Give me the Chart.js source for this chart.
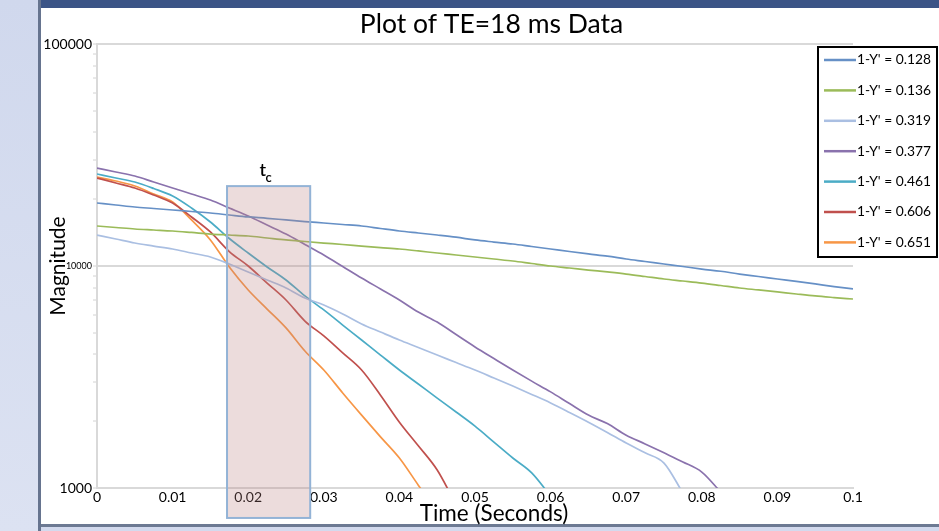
<!DOCTYPE html>
<html>
<head>
<meta charset="utf-8">
<script src="https://cdn.jsdelivr.net/npm/chart.js@4.4.0/dist/chart.umd.min.js"></script>
<style>
  html, body { margin: 0; padding: 0; background: #fff; }
  #frame { position: relative; width: 939px; height: 531px; overflow: hidden; background: #fff; }
  .deco { position: absolute; }
  #myChart { position: absolute; left: 0; top: 0; }
</style>
</head>
<body>
<div id="frame">
  <div class="deco" style="left:0;top:0;width:38px;height:531px;background:linear-gradient(#d0d8ed,#dce2f2)"></div>
  <div class="deco" style="left:38px;top:0;width:3px;height:531px;background:#66748f"></div>
  <div class="deco" style="left:41px;top:0;width:898px;height:8px;background:#3b5486"></div>
  <div class="deco" style="left:41px;top:524px;width:898px;height:3px;background:#6d7a93"></div>
  <div class="deco" style="left:41px;top:527px;width:898px;height:4px;background:#d3daee"></div>
  <canvas id="myChart" width="939" height="531"></canvas>
</div>
<script>
// sample times (seconds)
const timeS = [0, 0.0025, 0.005, 0.0075, 0.01, 0.0125, 0.015, 0.0175, 0.02, 0.0225,
  0.025, 0.0275, 0.03, 0.0325, 0.035, 0.0375, 0.04, 0.0425, 0.045, 0.0475,
  0.05, 0.0525, 0.055, 0.0575, 0.06, 0.0625, 0.065, 0.0675, 0.07, 0.0725,
  0.075, 0.0775, 0.08, 0.0825, 0.085, 0.0875, 0.09, 0.0925, 0.095, 0.0975, 0.1]

// magnitudes, one array per curve
const mag128 = [19220, 18830, 18440, 18160, 17880, 17600, 17330, 16970, 16630, 16400,
  16120, 15860, 15620, 15380, 15140, 14750, 14380, 14080, 13790, 13480,
  13100, 12820, 12560, 12240, 11930, 11620, 11330, 11070, 10750, 10480,
  10210, 9950, 9690, 9470, 9200, 8970, 8740, 8520, 8300, 8080, 7880]
const mag136 = [15140, 14910, 14680, 14530, 14380, 14160, 13930, 13790, 13650, 13370,
  13100, 12890, 12690, 12500, 12300, 12110, 11930, 11690, 11440, 11210,
  10980, 10750, 10530, 10260, 10000, 9795, 9590, 9400, 9200, 8970,
  8740, 8560, 8380, 8170, 7960, 7800, 7640, 7480, 7330, 7210, 7100]
const mag319 = [13790, 13230, 12690, 12300, 11930, 11440, 10980, 10210, 9400, 8650,
  7960, 7180, 6670, 6080, 5480, 5040, 4640, 4295, 3970, 3675,
  3400, 3130, 2880, 2640, 2415, 2190, 1980, 1780, 1595, 1440,
  1295, 950]
const mag377 = [27630, 26510, 25430, 23890, 22460, 21100, 19830, 18250, 16800, 15300,
  13930, 12500, 11210, 9950, 8830, 7880, 7030, 6200, 5590, 4910,
  4320, 3830, 3400, 3030, 2710, 2400, 2130, 1950, 1730, 1580,
  1440, 1310, 1180, 960]
const mag461 = [25970, 24910, 23890, 22340, 20670, 18250, 15780, 13300, 11440, 9900,
  8650, 7330, 6340, 5420, 4640, 3970, 3400, 2940, 2540, 2200,
  1900, 1610, 1365, 1170, 920]
const mag606 = [24910, 23650, 22460, 20880, 19220, 16630, 14230, 11620, 10000, 8380,
  7030, 5650, 4840, 4060, 3400, 2620, 1980, 1550, 1205, 840]
const mag651 = [25170, 24150, 22930, 21100, 19420, 16120, 13100, 9900, 7800, 6400,
  5260, 4140, 3400, 2680, 2130, 1700, 1365, 1030, 780]

const seriesLabels = ["1-Y' = 0.128", "1-Y' = 0.136", "1-Y' = 0.319", "1-Y' = 0.377",
  "1-Y' = 0.461", "1-Y' = 0.606", "1-Y' = 0.651"]
const seriesValues = [mag128, mag136, mag319, mag377, mag461, mag606, mag651]
const seriesColors = ['#6690c6', '#9bbb59', '#aabfe2', '#8a72ad', '#4bacc6', '#c0504d', '#f79646']

const xTicks = [0, 0.01, 0.02, 0.03, 0.04, 0.05, 0.06, 0.07, 0.08, 0.09, 0.1]
const yMajor = [1000, 10000, 100000]
const yTicks = [1000, 2000, 3000, 4000, 5000, 6000, 7000, 8000, 9000,
  10000, 20000, 30000, 40000, 50000, 60000, 70000, 80000, 90000, 100000]

// the shaded t_c window
const tcStart = 0.0172
const tcEnd = 0.0282
const tcTop = 22900
const tcBottom = 733

const family = 'Lato, "Open Sans", sans-serif'

let slideText = {
    id: 'slideText',
    afterDraw(chart){
        let ctx = chart.ctx
        ctx.save()
        ctx.fillStyle = '#000'
        ctx.textAlign = 'center'
        ctx.textBaseline = 'middle'
        ctx.font = '26.5px ' + family
        ctx.fillText('Plot of TE=18 ms Data', 491.5, 24)
        ctx.font = '22.5px ' + family
        ctx.fillText('Time (Seconds)', 494, 514)
        ctx.restore()
    }
}

let tcBand = {
    id: 'tcBand',
    afterDatasetsDraw(chart){
        let {ctx, scales: {x, y}} = chart
        let l = x.getPixelForValue(tcStart)
        let r = x.getPixelForValue(tcEnd)
        let t = y.getPixelForValue(tcTop)
        let b = y.getPixelForValue(tcBottom)
        ctx.save()
        ctx.fillStyle = 'rgba(185, 130, 130, 0.28)'
        ctx.fillRect(l, t, r - l, b - t)
        ctx.strokeStyle = '#93b3d6'
        ctx.lineWidth = 2
        ctx.strokeRect(l, t, r - l, b - t)
        let cx = (l + r) / 2
        ctx.fillStyle = '#000'
        ctx.textBaseline = 'alphabetic'
        ctx.font = '600 18px ' + family
        ctx.fillText('t', cx - 9, t - 10)
        ctx.font = '600 13px ' + family
        ctx.fillText('c', cx - 3, t - 4)
        ctx.restore()
    }
}

let legendBox = {
    id: 'legendBox',
    afterDraw(chart){
        let ctx = chart.ctx
        let left = 818, top = 47, w = 119, h = 210
        ctx.save()
        ctx.fillStyle = '#fff'
        ctx.fillRect(left, top, w, h)
        ctx.lineWidth = 2
        ctx.strokeStyle = '#000'
        ctx.strokeRect(left, top, w, h)
        ctx.font = '13.8px ' + family
        ctx.textBaseline = 'middle'
        chart.data.datasets.forEach((ds, i) => {
            let ry = top + 13 + i * 30.4
            ctx.strokeStyle = ds.borderColor
            ctx.lineWidth = 2.5
            ctx.beginPath()
            ctx.moveTo(left + 6, ry)
            ctx.lineTo(left + 38, ry)
            ctx.stroke()
            ctx.fillStyle = '#000'
            ctx.fillText(ds.label, left + 39, ry)
        })
        ctx.restore()
    }
}

let datasets = seriesValues.map((vals, i) => {
    return {
        label: seriesLabels[i],
        data: vals.map((v, j) => ({x: timeS[j], y: v})),
        borderColor: seriesColors[i],
        backgroundColor: seriesColors[i],
        borderWidth: 1.7,
        pointRadius: 0,
        cubicInterpolationMode: 'monotone',
        fill: false
    }
})

let ctx = document.getElementById('myChart')
let mychart = new Chart(ctx, {
    type: 'line',
    data: { datasets: datasets },
    plugins: [tcBand, slideText, legendBox],
    options: {
        responsive: false,
        animation: false,
        devicePixelRatio: 1,
        layout: { padding: { left: 42, right: 86, top: 44, bottom: 0 } },
        plugins: {
            legend: { display: false },
            tooltip: { enabled: false },
            title: { display: false }
        },
        scales: {
            x: {
                type: 'linear',
                min: 0,
                max: 0.1,
                afterFit: (s) => { s.height = 43 },
                afterBuildTicks: (s) => { s.ticks = xTicks.map((v) => ({value: v})) },
                grid: { drawOnChartArea: false, drawTicks: false },
                border: { color: '#d9d9d9', width: 2 },
                ticks: {
                    autoSkip: false,
                    maxRotation: 0,
                    padding: 1,
                    color: '#000',
                    font: { family: family, size: 14 },
                    callback: (v) => String(+Number(v).toFixed(3))
                }
            },
            y: {
                type: 'logarithmic',
                min: 1000,
                max: 100000,
                afterFit: (s) => { s.width = 55 },
                afterBuildTicks: (s) => {
                    s.ticks = yTicks.map((v) => ({value: v, major: yMajor.includes(v)}))
                },
                grid: {
                    color: (c) => (c.tick && yMajor.includes(c.tick.value)) ? '#d9d9d9' : 'rgba(0,0,0,0)',
                    lineWidth: 2,
                    tickColor: '#d2d2d2',
                    tickLength: 4,
                    tickWidth: 1
                },
                border: { color: '#d9d9d9', width: 2 },
                ticks: {
                    autoSkip: false,
                    padding: 1,
                    color: '#000',
                    font: (c) => ({ family: family, size: (c.tick && c.tick.value === 10000) ? 9 : 14 }),
                    callback: (v) => yMajor.includes(v) ? String(v) : ''
                },
                title: {
                    display: true,
                    text: 'Magnitude',
                    color: '#000',
                    font: { family: family, size: 21 },
                    padding: { top: 4, bottom: 0 }
                }
            }
        }
    }
})
</script>
</body>
</html>
